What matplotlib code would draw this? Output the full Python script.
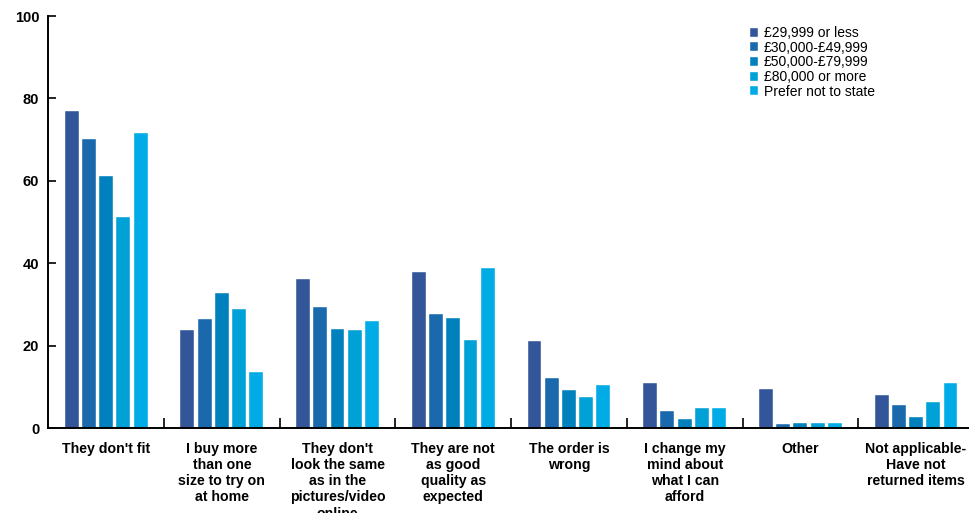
import numpy as np
import matplotlib.pyplot as plt

plt.rcParams['font.family'] = ['Liberation Sans', 'DejaVu Sans']

categories = ["They don't fit",
              "I buy more\nthan one\nsize to try on\nat home",
              "They don't\nlook the same\nas in the\npictures/video\nonline",
              "They are not\nas good\nquality as\nexpected",
              "The order is\nwrong",
              "I change my\nmind about\nwhat I can\nafford",
              "Other",
              "Not applicable-\nHave not\nreturned items"]

series_names = ["£29,999 or less", "£30,000-£49,999", "£50,000-£79,999",
                "£80,000 or more", "Prefer not to state"]

under_30k = [77.0, 23.7, 36.2, 37.8, 21.1, 11.0, 9.5, 8.0]
from_30k_50k = [70.1, 26.5, 29.3, 27.7, 12.1, 4.2, 1.0, 5.5]
from_50k_80k = [61.2, 32.8, 24.1, 26.6, 9.2, 2.2, 1.1, 2.6]
over_80k = [51.3, 28.8, 23.7, 21.3, 7.5, 4.9, 1.1, 6.2]
not_stated = [71.5, 13.5, 26.0, 38.8, 10.4, 4.9, 1.1, 11.0]

values = [under_30k, from_30k_50k, from_50k_80k, over_80k, not_stated]
colors = ['#325699', '#1a69ad', '#0080bd', '#00a1d7', '#00abe6']

fig = plt.figure(figsize=(9.69, 5.13), dpi=100)
W, H = 969, 513
ax = fig.add_axes([48.3 / W, (H - 428) / H, (W - 48.3) / W, (428 - 16) / H])

x = np.arange(len(categories))
step = 0.149
width = 0.12
for i, (name, vals) in enumerate(zip(series_names, values)):
    ax.bar(x + (i - 2) * step, vals, width, color=colors[i], label=name,
           edgecolor='white', linewidth=0.3)

ax.set_ylim(0, 100)
ax.set_xlim(-0.5, -0.5 + (W - 48.3) / 115.7)
ax.set_yticks([0, 20, 40, 60, 80, 100])
ax.tick_params(axis='y', direction='in', length=6, width=1.2, pad=6.5,
               labelsize=10.5)
for lab in ax.get_yticklabels():
    lab.set_fontweight('bold')

ax.set_xticks(x)
ax.set_xticklabels(categories, fontsize=10.2, fontweight='bold', va='top',
                   linespacing=1.2)
ax.tick_params(axis='x', length=0, pad=10)
ax.set_xticks(np.arange(len(categories) - 1) + 0.5, minor=True)
ax.tick_params(axis='x', which='minor', direction='in', length=7, width=1.2)

for s in ['top', 'right']:
    ax.spines[s].set_visible(False)
for s in ['left', 'bottom']:
    ax.spines[s].set_linewidth(1.4)

ax.legend(loc='upper left', bbox_to_anchor=(750 / W, 1 - 26 / H),
          bbox_transform=fig.transFigure, frameon=False, fontsize=10,
          handlelength=0.6, handleheight=0.6, handletextpad=0.4,
          labelspacing=0.05, borderaxespad=0, borderpad=0)

fig.savefig('out.png', dpi=100)
